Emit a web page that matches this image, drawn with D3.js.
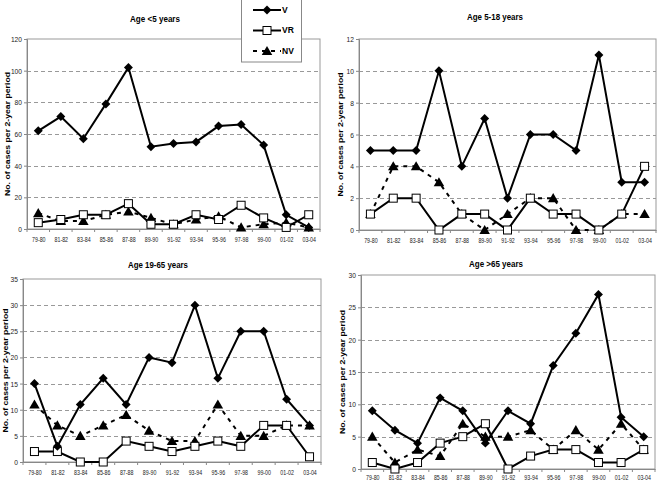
<!DOCTYPE html>
<html><head><meta charset="utf-8">
<script src="https://cdn.jsdelivr.net/npm/d3@7"></script>
<style>
body{margin:0;background:#fff;}
text{font-family:"Liberation Sans Narrow","Arial Narrow","Liberation Sans",Arial,sans-serif;}
</style></head>
<body><svg id="c" width="659" height="484"></svg>
<script>
const periods = ["79-80","81-82","83-84","85-86","87-88","89-90","91-92","93-94","95-96","97-98","99-00","01-02","03-04"];
const titles = ["Age <5 years","Age 5-18 years","Age 19-65 years","Age >65 years"];
const yMaxes = [120, 12, 35, 30];
const ySteps = [20, 2, 5, 5];
const seriesNames = ["V","VR","NV"];
// Age <5
const v_u5  = [62,71,57,79,102,52,54,55,65,66,53,9,1];
const vr_u5 = [4,6,9,9,16,3,3,9,6,15,7,1,9];
const nv_u5 = [10,5,5,9,11,7,3,6,8,1,3,4,1];
// Age 5-18
const v_518  = [5,5,5,10,4,7,2,6,6,5,11,3,3];
const vr_518 = [1,2,2,0,1,1,0,2,1,1,0,1,4];
const nv_518 = [1,4,4,3,1,0,1,2,2,0,0,1,1];
// Age 19-65
const v_1965  = [15,3,11,16,11,20,19,30,16,25,25,12,7];
const vr_1965 = [2,2,0,0,4,3,2,3,4,3,7,7,1];
const nv_1965 = [11,7,5,7,9,6,4,4,11,5,5,7,7];
// Age >65
const v_o65  = [9,6,4,11,9,4,9,7,16,21,27,8,5];
const vr_o65 = [1,0,1,4,5,7,0,2,3,3,1,1,3];
const nv_o65 = [5,1,3,2,7,5,5,6,3,6,3,7,3];
const panelData = [[v_u5,vr_u5,nv_u5],[v_518,vr_518,nv_518],[v_1965,vr_1965,nv_1965],[v_o65,vr_o65,nv_o65]];

const layout = [
  {l:27,t:39,r:320,b:229,tx:155,ty:22,yt:7,xl:243,tw:50},
  {l:359,t:39,r:656,b:230,tx:495,ty:20,yt:340,xl:244,tw:56},
  {l:23,t:279,r:321,b:462,tx:158,ty:268,yt:5,xl:476,tw:60},
  {l:361,t:275,r:655,b:469,tx:496,ty:267,yt:342,xl:481,tw:54}
];

const svg = d3.select("#c");
const triangle = d3.symbol().type(d3.symbolTriangle).size(48);

function marker(g, type, x, y){
  if(type===0){
    g.append("path").attr("d", d3.symbol().type(d3.symbolSquare).size(40)()).attr("transform",`translate(${x},${y}) rotate(45)`).attr("fill","#000");
  } else if(type===1){
    g.append("rect").attr("x",x-4).attr("y",y-4).attr("width",8).attr("height",8).attr("fill","#fff").attr("stroke","#000").attr("stroke-width",1);
  } else {
    g.append("path").attr("d", triangle()).attr("transform",`translate(${x},${y+1})`).attr("fill","#000");
  }
}

panelData.forEach((series,pi)=>{
  const L = layout[pi];
  const g = svg.append("g");
  const x = d3.scalePoint().domain(periods).range([L.l,L.r]).padding(0.5);
  const y = d3.scaleLinear().domain([0,yMaxes[pi]]).range([L.b,L.t]);
  const ticks = d3.range(0, yMaxes[pi]+0.001, ySteps[pi]);
  g.append("rect").attr("x",L.l).attr("y",L.t).attr("width",L.r-L.l).attr("height",L.b-L.t).attr("fill","#fff").attr("stroke","#999").attr("stroke-width",1);
  g.selectAll(".grid").data(ticks.filter(t=>t>0 && t<yMaxes[pi])).join("line")
    .attr("x1",L.l).attr("x2",L.r).attr("y1",d=>Math.round(y(d))+0.5).attr("y2",d=>Math.round(y(d))+0.5)
    .attr("stroke","#999").attr("stroke-dasharray","4,3").attr("stroke-width",1);
  // y axis
  const ya = g.append("g").attr("transform",`translate(${L.l},0)`).call(d3.axisLeft(y).tickValues(ticks).tickSize(3).tickPadding(2).tickFormat(d3.format("d")));
  ya.select(".domain").attr("stroke","#888");
  ya.selectAll(".tick line").attr("stroke","#888");
  ya.selectAll("text").attr("font-size",8).attr("fill","#222")
    .attr("textLength",d=>String(d).length*3.7).attr("lengthAdjust","spacingAndGlyphs");
  // x axis
  const bw = (L.r-L.l)/periods.length;
  const xa = g.append("g").attr("transform",`translate(0,${L.b})`).call(d3.axisBottom(x).tickSize(0).tickPadding(L.xl-L.b-6));
  xa.select(".domain").attr("stroke","#888");
  xa.selectAll("text").attr("font-size",7).attr("fill","#222").attr("textLength",13.5).attr("lengthAdjust","spacingAndGlyphs");
  g.selectAll(".xt").data(d3.range(periods.length+1)).join("line")
    .attr("x1",i=>L.l+i*bw).attr("x2",i=>L.l+i*bw).attr("y1",L.b).attr("y2",L.b+3).attr("stroke","#888");
  // title
  g.append("text").attr("x",L.tx).attr("y",L.ty).attr("text-anchor","middle").attr("font-size",9.5).attr("font-weight","bold")
    .attr("textLength",L.tw).attr("lengthAdjust","spacingAndGlyphs").text(titles[pi]);
  g.append("text").attr("transform",`translate(${L.yt},${(L.t+L.b)/2}) rotate(-90)`).attr("text-anchor","middle").attr("dy","0.35em")
    .attr("font-size",8).attr("font-weight","bold").attr("textLength",124).attr("lengthAdjust","spacingAndGlyphs")
    .style("font-family","Liberation Sans, Arial, sans-serif").text("No. of cases per 2-year period");
  // lines
  const line = d3.line().x((d,i)=>x(periods[i])).y(d=>y(d));
  [2,1,0].forEach(si=>{
    g.append("path").datum(series[si]).attr("d",line).attr("fill","none").attr("stroke","#000").attr("stroke-width",2)
      .attr("stroke-dasharray", si===2 ? "4,5" : null);
  });
  [2,1,0].forEach(si=>{
    series[si].forEach((v,i)=>marker(g, si, x(periods[i]), y(v)));
  });
});

// legend
const lg = svg.append("g");
lg.append("rect").attr("x",241.5).attr("y",-1).attr("width",60).attr("height",63).attr("fill","#fff").attr("stroke","#888");
seriesNames.forEach((n,i)=>{
  const yy = 10 + i*20.5;
  lg.append("line").attr("x1",253).attr("x2",281).attr("y1",yy).attr("y2",yy).attr("stroke","#000").attr("stroke-width",2)
    .attr("stroke-dasharray", i===2 ? "4,5" : null);
  marker(lg, i, 267, yy);
  lg.append("text").attr("x",282).attr("y",yy).attr("dy","0.35em").attr("font-size",8.5).attr("font-weight","bold").text(n);
});
</script></body></html>
